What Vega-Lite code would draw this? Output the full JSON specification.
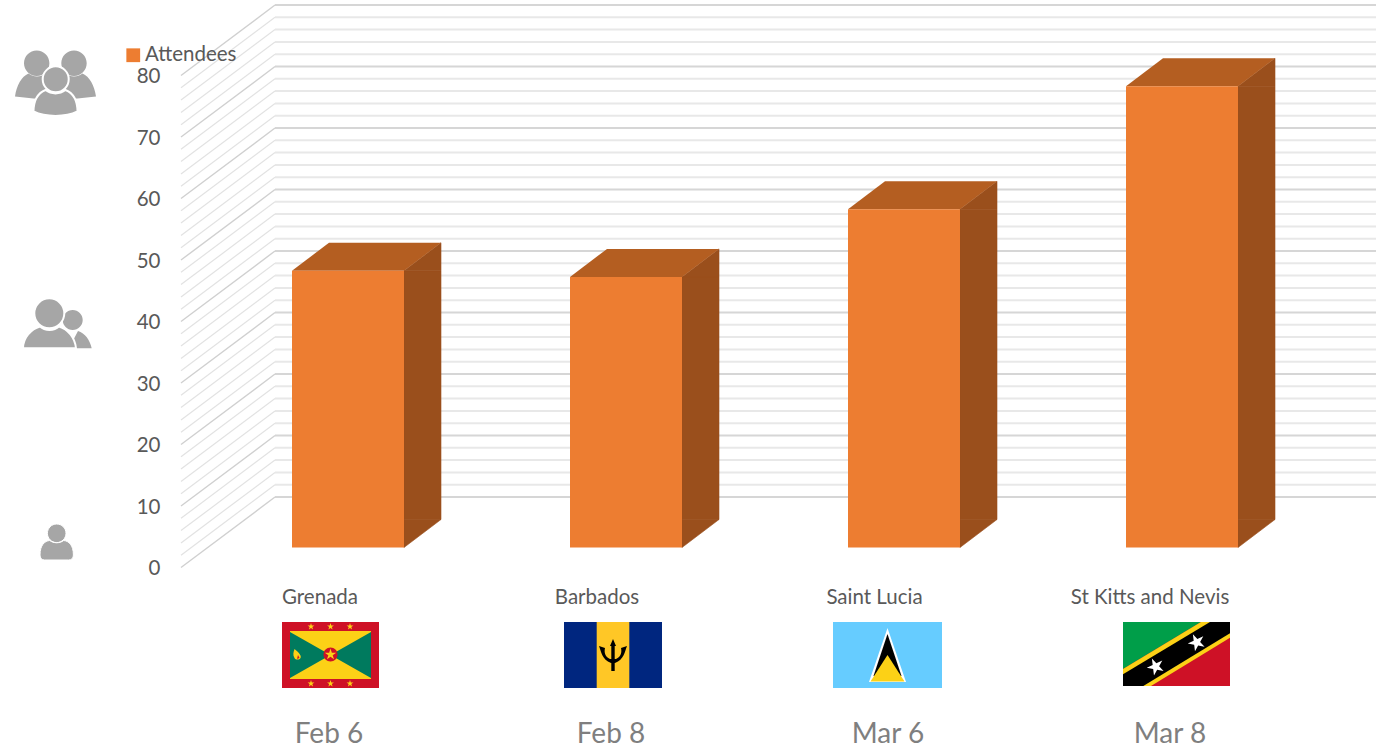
{
"$schema":"https://vega.github.io/schema/vega-lite/v6.json",
"width":1376,"height":748,"padding":0,"autosize":"none","background":"white",
"config":{"view":{"stroke":null},"font":"Lato"},
"datasets":{
"bars":[
{"country":"Grenada","date":"Feb 6","attendees":45},
{"country":"Barbados","date":"Feb 8","attendees":44},
{"country":"Saint Lucia","date":"Mar 6","attendees":55},
{"country":"St Kitts and Nevis","date":"Mar 8","attendees":75}],
"grid":[{"level":0},{"level":2},{"level":4},{"level":6},{"level":8},{"level":10},{"level":12},{"level":14},{"level":16},{"level":18},{"level":20},{"level":22},{"level":24},{"level":26},{"level":28},{"level":30},{"level":32},{"level":34},{"level":36},{"level":38},{"level":40},{"level":42},{"level":44},{"level":46},{"level":48},{"level":50},{"level":52},{"level":54},{"level":56},{"level":58},{"level":60},{"level":62},{"level":64},{"level":66},{"level":68},{"level":70},{"level":72},{"level":74},{"level":76},{"level":78},{"level":80}]
},
"data":{"name":"bars"},
"encoding":{
"x":{"field":"country","type":"nominal","sort":null,"axis":null,"scale":{"type":"point","domain":["Grenada","Barbados","Saint Lucia","St Kitts and Nevis"],"range":[348,1182],"padding":0}},
"y":{"field":"attendees","type":"quantitative","scale":{"domain":[-32.6016,89.0244],"nice":false,"zero":false},
"axis":{"orient":"left","offset":-160,"labelOffset":21,"domain":false,"ticks":false,"grid":false,"labelPadding":0,"values":[0,10,20,30,40,50,60,70,80],"labelFont":"Lato","labelFontSize":20.5,"labelColor":"#595959","title":null}}
},
"layer":[
{"data":{"name":"grid"},"transform":[{"filter":"datum.level % 10 != 0"}],"layer":[
{"mark":{"type":"point","shape":"M-73,-50.5L1028,-50.5","size":4,"filled":false,"stroke":"#E8E8E8","strokeWidth":2,"opacity":1}},
{"mark":{"type":"point","shape":"M-167,20L-73,-50.5","size":4,"filled":false,"stroke":"#E2E2E2","strokeWidth":1.2,"opacity":1}}
],"encoding":{"x":{"datum":"Grenada","type":"nominal"},"y":{"field":"level","type":"quantitative"}}},
{"data":{"name":"grid"},"transform":[{"filter":"datum.level % 10 == 0"}],"layer":[
{"mark":{"type":"point","shape":"M-73,-50.5L1028,-50.5","size":4,"filled":false,"stroke":"#D6D6D6","strokeWidth":2,"opacity":1}},
{"mark":{"type":"point","shape":"M-167,20L-73,-50.5","size":4,"filled":false,"stroke":"#D0D0D0","strokeWidth":1.4,"opacity":1}}
],"encoding":{"x":{"datum":"Grenada","type":"nominal"},"y":{"field":"level","type":"quantitative"}}},

{"mark":{"type":"bar","width":37,"xOffset":74.5,"fill":"#9A4F1C","stroke":"#9A4F1C","strokeWidth":0.6},"encoding":{"y2":{"datum":4.55}}},
{"mark":{"type":"point","shape":"M56,0L93,-28L93,0Z","size":4,"filled":true,"fill":"#9A4F1C","opacity":1,"stroke":"#9A4F1C","strokeWidth":0.6}},
{"mark":{"type":"point","shape":"M56,0L93,-28L56,-28Z","size":4,"filled":true,"fill":"#9A4F1C","opacity":1,"stroke":"#9A4F1C","strokeWidth":0.6},"encoding":{"y":{"datum":0}}},
{"mark":{"type":"point","shape":"M-56,0L-19,-28L93,-28L56,0Z","size":4,"filled":true,"fill":"#B45E21","opacity":1,"strokeWidth":0}},
{"mark":{"type":"bar","width":112},"encoding":{"y2":{"datum":0},"color":{"datum":"Attendees","type":"nominal","scale":{"domain":["Attendees"],"range":["#ED7D31"]},
"legend":{"orient":"none","legendX":123,"legendY":45,"title":null,"symbolType":"square","symbolSize":190,"labelFont":"Lato","labelFontSize":20.5,"labelColor":"#595959","labelOffset":1.5}}}},

{"transform":[{"filter":"datum.country == 'Grenada'"}],"mark":{"type":"text","dx":-28,"dy":50,"font":"Lato","fontSize":20.5,"color":"#595959"},"encoding":{"y":{"datum":0},"text":{"field":"country"}}},
{"transform":[{"filter":"datum.country == 'Barbados'"}],"mark":{"type":"text","dx":-29,"dy":50,"font":"Lato","fontSize":20.5,"color":"#595959"},"encoding":{"y":{"datum":0},"text":{"field":"country"}}},
{"transform":[{"filter":"datum.country == 'Saint Lucia'"}],"mark":{"type":"text","dx":-29.5,"dy":50,"font":"Lato","fontSize":20.5,"color":"#595959"},"encoding":{"y":{"datum":0},"text":{"field":"country"}}},
{"transform":[{"filter":"datum.country == 'St Kitts and Nevis'"}],"mark":{"type":"text","dx":-32,"dy":50,"font":"Lato","fontSize":20.5,"color":"#595959"},"encoding":{"y":{"datum":0},"text":{"field":"country"}}},
{"transform":[{"filter":"datum.date == 'Feb 6'"}],"mark":{"type":"text","dx":-19,"dy":187.5,"font":"Lato","fontSize":28,"color":"#7F7F7F"},"encoding":{"y":{"datum":0},"text":{"field":"date"}}},
{"transform":[{"filter":"datum.date == 'Feb 8'"}],"mark":{"type":"text","dx":-15,"dy":187.5,"font":"Lato","fontSize":28,"color":"#7F7F7F"},"encoding":{"y":{"datum":0},"text":{"field":"date"}}},
{"transform":[{"filter":"datum.date == 'Mar 6'"}],"mark":{"type":"text","dx":-16,"dy":187.5,"font":"Lato","fontSize":28,"color":"#7F7F7F"},"encoding":{"y":{"datum":0},"text":{"field":"date"}}},
{"transform":[{"filter":"datum.date == 'Mar 8'"}],"mark":{"type":"text","dx":-12,"dy":187.5,"font":"Lato","fontSize":28,"color":"#7F7F7F"},"encoding":{"y":{"datum":0},"text":{"field":"date"}}},

{"transform":[{"filter":"datum.country == 'Grenada'"}],"layer":[
{"mark":{"type":"point","size":4,"filled":true,"opacity":1,"strokeWidth":0,"xOffset":-17.5,"yOffset":107.5,"fill":"#CE1126","shape":"M-48.5,-33H48.5V33H-48.5Z"}},
{"mark":{"type":"point","size":4,"filled":true,"opacity":1,"strokeWidth":0,"xOffset":-17.5,"yOffset":107.5,"fill":"#FCD116","shape":"M-40.5,-24H40.5V24H-40.5Z"}},
{"mark":{"type":"point","size":4,"filled":true,"opacity":1,"strokeWidth":0,"xOffset":-17.5,"yOffset":107.5,"fill":"#007A5E","shape":"M-40.5,-23L0,0L-40.5,23ZM40.5,-23L0,0L40.5,23Z"}},
{"mark":{"type":"point","size":4,"filled":true,"opacity":1,"strokeWidth":0,"xOffset":-17.5,"yOffset":107.5,"fill":"#CE1126","shape":"M-7,-0.5A7,7,0,1,1,7,-0.5A7,7,0,1,1,-7,-0.5Z"}},
{"mark":{"type":"point","size":4,"filled":true,"opacity":1,"strokeWidth":0,"xOffset":-17.5,"yOffset":107.5,"fill":"#FCD116","shape":"M0,-6.5l1.35,4.15l4.35,0l-3.52,2.55l1.35,4.15l-3.53,-2.55l-3.53,2.55l1.35,-4.15l-3.52,-2.55l4.35,0zM-19.5,-32.1l0.81,2.49l2.61,0l-2.11,1.53l0.81,2.49l-2.12,-1.53l-2.12,1.53l0.81,-2.49l-2.11,-1.53l2.61,0zM0,-32.1l0.81,2.49l2.61,0l-2.11,1.53l0.81,2.49l-2.12,-1.53l-2.12,1.53l0.81,-2.49l-2.11,-1.53l2.61,0zM19.5,-32.1l0.81,2.49l2.61,0l-2.11,1.53l0.81,2.49l-2.12,-1.53l-2.12,1.53l0.81,-2.49l-2.11,-1.53l2.61,0zM-19.5,24.9l0.81,2.49l2.61,0l-2.11,1.53l0.81,2.49l-2.12,-1.53l-2.12,1.53l0.81,-2.49l-2.11,-1.53l2.61,0zM0,24.9l0.81,2.49l2.61,0l-2.11,1.53l0.81,2.49l-2.12,-1.53l-2.12,1.53l0.81,-2.49l-2.11,-1.53l2.61,0zM19.5,24.9l0.81,2.49l2.61,0l-2.11,1.53l0.81,2.49l-2.12,-1.53l-2.12,1.53l0.81,-2.49l-2.11,-1.53l2.61,0zM-36,-6C-31,-2,-29,1,-30,3C-31,5,-35,5,-36,3C-38,0,-37,-3,-36,-6Z"}},
{"mark":{"type":"point","size":4,"filled":true,"opacity":1,"strokeWidth":0,"xOffset":-17.5,"yOffset":107.5,"fill":"#CE1126","shape":"M-32.5,0L-31,3L-33.5,4Z"}}
],"encoding":{"y":{"datum":0}}},

{"transform":[{"filter":"datum.country == 'Barbados'"}],"layer":[
{"mark":{"type":"point","size":4,"filled":true,"opacity":1,"strokeWidth":0,"xOffset":-13,"yOffset":107.5,"fill":"#00267F","shape":"M-49,-33H49V33H-49Z"}},
{"mark":{"type":"point","size":4,"filled":true,"opacity":1,"strokeWidth":0,"xOffset":-13,"yOffset":107.5,"fill":"#FFC726","shape":"M-16.3,-33H16.3V33H-16.3Z"}},
{"mark":{"type":"point","size":4,"filled":true,"opacity":1,"strokeWidth":0,"xOffset":-13,"yOffset":107.5,"fill":"#000000","shape":"M0,-16L3,-9L1.7,-9L1.7,16L-1.7,16L-1.7,-9L-3,-9ZM-14,-9L-8,-7C-9,-3,-8,2,-3,4L3,4C8,2,9,-3,8,-7L14,-9C12,-4,11,5,2,8L-2,8C-11,5,-12,-4,-14,-9Z"}}
],"encoding":{"y":{"datum":0}}},

{"transform":[{"filter":"datum.country == 'Saint Lucia'"}],"layer":[
{"mark":{"type":"point","size":4,"filled":true,"opacity":1,"strokeWidth":0,"xOffset":-16.5,"yOffset":107.5,"fill":"#66CCFF","shape":"M-54.5,-33H54.5V33H-54.5Z"}},
{"mark":{"type":"point","size":4,"filled":true,"opacity":1,"strokeWidth":0,"xOffset":-16.5,"yOffset":107.5,"fill":"#FFFFFF","shape":"M0,-27L18.5,27L-18.5,27Z"}},
{"mark":{"type":"point","size":4,"filled":true,"opacity":1,"strokeWidth":0,"xOffset":-16.5,"yOffset":107.5,"fill":"#000000","shape":"M0,-21L14,21L-14,21Z"}},
{"mark":{"type":"point","size":4,"filled":true,"opacity":1,"strokeWidth":0,"xOffset":-16.5,"yOffset":107.5,"fill":"#FCD116","shape":"M0,0L17,26.5L-17,26.5Z"}}
],"encoding":{"y":{"datum":0}}},

{"transform":[{"filter":"datum.country == 'St Kitts and Nevis'"}],"layer":[
{"mark":{"type":"point","size":4,"filled":true,"opacity":1,"strokeWidth":0,"xOffset":-5.5,"yOffset":106.5,"fill":"#CE1126","shape":"M-53.5,-32H53.5V32H-53.5Z"}},
{"mark":{"type":"point","size":4,"filled":true,"opacity":1,"strokeWidth":0,"xOffset":-5.5,"yOffset":106.5,"fill":"#009E49","shape":"M-53.5,-32L24.5,-32L-53.5,15Z"}},
{"mark":{"type":"point","size":4,"filled":true,"opacity":1,"strokeWidth":0,"xOffset":-5.5,"yOffset":106.5,"fill":"#FCD116","shape":"M-53.5,15L24.5,-32L53.5,-32L53.5,-16.3L-25.5,32L-53.5,32Z"}},
{"mark":{"type":"point","size":4,"filled":true,"opacity":1,"strokeWidth":0,"xOffset":-5.5,"yOffset":106.5,"fill":"#000000","shape":"M-53.5,20.3L33.5,-32L53.5,-32L53.5,-20.7L-33.2,32L-53.5,32Z"}},
{"mark":{"type":"point","size":4,"filled":true,"opacity":1,"strokeWidth":0,"xOffset":-5.5,"yOffset":106.5,"fill":"#FFFFFF","shape":"M-24.6,4.54l4.46,4.78l5.92,-2.76l-3.17,5.72l4.46,4.78l-6.42,-1.24l-3.17,5.71l-0.8,-6.48l-6.41,-1.25l5.92,-2.77zM16.4,-19.86l4.46,4.78l5.92,-2.76l-3.17,5.72l4.46,4.78l-6.42,-1.24l-3.17,5.71l-0.8,-6.48l-6.41,-1.25l5.92,-2.77z"}}
],"encoding":{"y":{"datum":0}}},

{"transform":[{"filter":"datum.country == 'Grenada'"}],"layer":[
{"mark":{"type":"point","size":4,"filled":true,"opacity":1,"strokeWidth":0,"xOffset":-292.5,"yOffset":-464,"fill":"#A6A6A6","shape":"M-31.5,-20.2A12.7,12.7,0,1,1,-6.1,-20.2A12.7,12.7,0,1,1,-31.5,-20.2ZM5.8,-20.2A12.7,12.7,0,1,1,31.2,-20.2A12.7,12.7,0,1,1,5.8,-20.2ZM-40.5,13C-39,2,-34,-7,-27,-10C-22,-6,-15,-6,-10,-10L-5,15L-22,15ZM40.5,13C39,2,34,-7,27,-10C22,-6,15,-6,10,-10L5,15L22,15Z"}},
{"mark":{"type":"point","size":4,"filled":true,"opacity":1,"stroke":"#FFFFFF","strokeWidth":2,"xOffset":-292.5,"yOffset":-464,"fill":"#A6A6A6","shape":"M-12.8,-4.2A13,13,0,1,1,13.2,-4.2A13,13,0,1,1,-12.8,-4.2ZM-22,28C-22,14,-16,9,-10,6.5C-4,11,4,11,10,6.5C16,9,22,14,22,28C10,34,-10,34,-22,28Z"}},
{"mark":{"type":"point","size":4,"filled":true,"opacity":1,"strokeWidth":0,"xOffset":-291,"yOffset":-217.5,"fill":"#A6A6A6","shape":"M5.7,-10A10,10,0,1,1,25.7,-10A10,10,0,1,1,5.7,-10ZM21,1C28,3,33,10,34.7,18.3L12,18.3Z"}},
{"mark":{"type":"point","size":4,"filled":true,"opacity":1,"stroke":"#FFFFFF","strokeWidth":2,"xOffset":-291,"yOffset":-217.5,"fill":"#A6A6A6","shape":"M-22.7,-16.7A15,15,0,1,1,7.3,-16.7A15,15,0,1,1,-22.7,-16.7ZM-34,18.3C-34,8,-26,-1,-17,-3.5C-12,1,-3,1,2,-3.5C11,-1,18,8,19,18.3Z"}},
{"mark":{"type":"point","size":4,"filled":true,"opacity":1,"stroke":"#FFFFFF","strokeWidth":1,"xOffset":-291.3,"yOffset":-1.5,"fill":"#A6A6A6","shape":"M-9.3,-12.7A9.3,9.3,0,1,1,9.3,-12.7A9.3,9.3,0,1,1,-9.3,-12.7ZM-16.7,9C-16.7,-1,-12,-5,-7,-5.5C-3,-2.5,3,-2.5,7,-5.5C12,-5,16.7,-1,16.7,9C16.7,12,15,14,12,14L-12,14C-15,14,-16.7,12,-16.7,9Z"}}
],"encoding":{"y":{"datum":0}}}
]
}
